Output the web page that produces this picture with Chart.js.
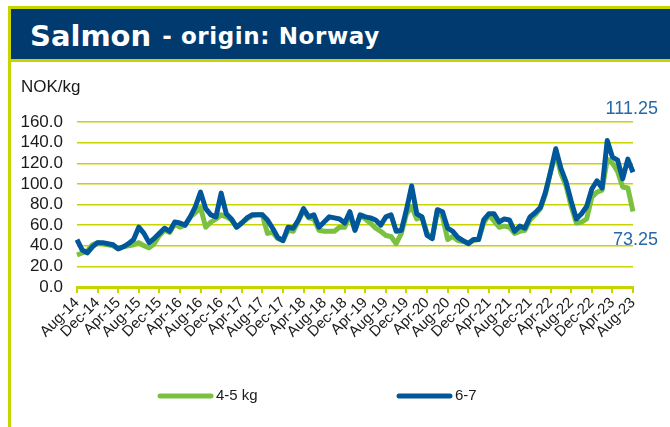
<!DOCTYPE html>
<html>
<head>
<meta charset="utf-8">
<script src="https://cdn.jsdelivr.net/npm/chart.js@4.4.0/dist/chart.umd.min.js"></script>
<style>
  html, body { margin: 0; padding: 0; background: #fff; }
  #wrap { position: relative; width: 670px; height: 427px; overflow: hidden; }
  #frame { position: absolute; left: 8px; top: 6px; right: -5px; bottom: -5px;
           border-left: 3px solid #c8d400; border-top: 3px solid #c8d400; }
  #title { position: absolute; left: 11px; top: 9px; right: 0; height: 53px;
           background: #003a6e; border-bottom: 3px solid #c8d400; z-index: 2;
           color: #fff; font-family: "DejaVu Sans", sans-serif; font-weight: bold;
           display: flex; align-items: center; padding-left: 19px; padding-top: 3px; box-sizing: border-box; }
  #title .big { font-size: 29px; }
  #title .small { font-size: 23px; margin-left: 11px; letter-spacing: 0.6px; }
  canvas { position: absolute; left: 0; top: 0; z-index: 1; }
</style>
</head>
<body>
<div id="wrap">
  <div id="frame"></div>
  <div id="title"><span class="big">Salmon</span><span class="small">- origin: Norway</span></div>
  <canvas id="chart" width="670" height="427"></canvas>
</div>
<script>
// monthly prices, NOK/kg, Aug-14 .. Aug-23
const monthNames = ["Jan","Feb","Mar","Apr","May","Jun","Jul","Aug","Sep","Oct","Nov","Dec"];
const firstYear = 2014, firstMonth = 7, monthCount = 109;

const small = [
  31,33,35,41,43,42,41,40,37,39,
  40,41,43,40,38,42,50,55,53,61,
  58,60,68,72,77,58,63,66,70,68,
  65,58,62,66,69,70,70,52,53,47,
  45,55,54,64,74,67,66,55,54,54,
  54,58,58,70,55,69,66,62,57,54,
  50,49,42,52,71,78,66,68,52,47,
  74,68,46,49,45,44,43,45,46,62,
  70,64,58,59,58,52,54,55,65,70,
  76,90,112,130,110,98,78,62,63,66,
  87,92,94,124,120,112,97,96,73.25
];
const large = [
  46,36,33,39,43,43,42,41,37,39,
  42,46,58,52,43,47,52,57,54,63,
  62,60,68,78,92,76,70,68,91,71,
  66,58,62,67,70,70,70,65,57,48,
  45,58,57,65,76,68,70,58,63,68,
  67,66,62,73,55,70,68,67,65,60,
  68,70,54,55,75,98,71,68,50,47,
  75,73,57,54,48,45,42,46,46,65,
  71,71,63,66,65,54,59,57,68,72,
  77,92,112,134,115,102,83,66,71,78,
  95,103,96,142,126,123,105,124,111.25
];
const seriesNames = ["4-5 kg", "6-7"];
const yTicks = [0, 20, 40, 60, 80, 100, 120, 140, 160];
const unit = "NOK/kg";

const labels = [];
for (let i = 0; i < monthCount; i++) {
  const m = (firstMonth + i) % 12;
  const y = firstYear + Math.floor((firstMonth + i) / 12);
  labels.push(monthNames[m] + "-" + String(y).slice(2));
}

const GREEN = "#7ac142";
const BLUE = "#00579a";
const LIME = "#c8d400";
const TXT = "#1a1a1a";
const FONT = '"Liberation Sans", Arial, sans-serif';

const extras = {
  id: "extras",
  afterDraw(chart) {
    const ctx = chart.ctx;
    ctx.save();
    ctx.textBaseline = "middle";
    ctx.fillStyle = TXT;
    ctx.font = "17px " + FONT;
    ctx.textAlign = "left";
    ctx.fillText(unit, 21, 87);

    // last values
    const ds = chart.data.datasets;
    ctx.font = "18px " + FONT;
    ctx.fillStyle = "#2569a8";
    ctx.textAlign = "right";
    ctx.fillText(ds[1].data[ds[1].data.length - 1].toFixed(2), 658, 109);
    ctx.fillText(ds[0].data[ds[0].data.length - 1].toFixed(2), 658, 240);

    // legend
    const xs = [158, 397];
    ctx.font = "15px " + FONT;
    ctx.textAlign = "left";
    ds.forEach((d, i) => {
      ctx.strokeStyle = d.borderColor;
      ctx.lineWidth = 5;
      ctx.lineCap = "round";
      ctx.beginPath();
      ctx.moveTo(xs[i] + 2, 396);
      ctx.lineTo(xs[i] + 53, 396);
      ctx.stroke();
      ctx.fillStyle = TXT;
      ctx.fillText(d.label, xs[i] + 58, 396);
    });
    ctx.restore();
  }
};

new Chart(document.getElementById("chart"), {
  type: "line",
  data: {
    labels: labels,
    datasets: [
      { label: seriesNames[0], data: small, borderColor: GREEN, borderWidth: 5,
        pointRadius: 0, tension: 0, borderJoinStyle: "round", order: 1 },
      { label: seriesNames[1], data: large, borderColor: BLUE, borderWidth: 5,
        pointRadius: 0, tension: 0, borderJoinStyle: "round", order: 0 }
    ]
  },
  options: {
    responsive: false,
    animation: false,
    layout: { padding: { left: 0, right: 37, top: 122, bottom: 0 } },
    plugins: { legend: { display: false }, tooltip: { enabled: false } },
    scales: {
      x: {
        offset: false,
        grid: { drawOnChartArea: false, drawTicks: true, tickLength: 6, color: LIME, lineWidth: 2 },
        border: { color: LIME, width: 3 },
        ticks: {
          autoSkip: false, minRotation: 45, maxRotation: 45, padding: 1,
          color: TXT, font: { family: FONT, size: 15 },
          callback: (v, i) => (i % 4 === 0 ? labels[i] : null)
        },
        afterFit: (s) => { s.height = 140; }
      },
      y: {
        min: yTicks[0], max: yTicks[yTicks.length - 1],
        afterBuildTicks: (s) => { s.ticks = yTicks.map(v => ({ value: v })); },
        ticks: { autoSkip: false, padding: 14, color: TXT, font: { family: FONT, size: 17 },
                 callback: (v) => Number(v).toFixed(1) },
        grid: { color: LIME, lineWidth: 1.5, drawTicks: false },
        border: { display: false },
        afterFit: (s) => { s.width = 77; }
      }
    }
  },
  plugins: [extras]
});
</script>
</body>
</html>
